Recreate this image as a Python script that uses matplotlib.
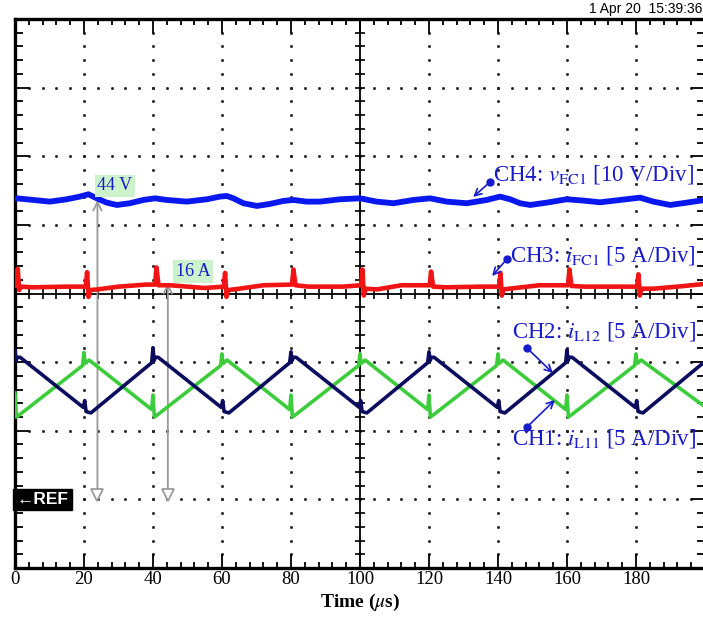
import numpy as np
import matplotlib
matplotlib.use("Agg")
import matplotlib.pyplot as plt

# === SCOPE DATA (time in us, amplitude in divisions from screen centre) ===
# CH4: v_FC1 (10 V/Div)
ch4_t = [0.5, 5.3, 10.1, 15.0, 18.8, 21.3, 23.7, 26.6, 29.5, 33.3, 37.2, 40.6,
         44.0, 49.8, 55.6, 59.4, 61.4, 63.3, 66.2, 70.1, 73.9, 77.8, 80.7, 84.5,
         88.4, 94.2, 100.0, 104.8, 109.7, 115.5, 120.3, 125.1, 130.9, 136.7,
         140.6, 143.5, 146.4, 149.3, 154.1, 159.9, 164.7, 169.6, 175.4, 181.2,
         185.0, 189.9, 194.7, 200.0]
ch4_v = [1.387, 1.363, 1.339, 1.373, 1.412, 1.446, 1.387, 1.324, 1.290, 1.315,
         1.363, 1.387, 1.363, 1.339, 1.373, 1.412, 1.421, 1.387, 1.315, 1.276,
         1.305, 1.349, 1.363, 1.339, 1.339, 1.373, 1.387, 1.339, 1.315, 1.363,
         1.387, 1.339, 1.315, 1.363, 1.412, 1.373, 1.315, 1.290, 1.324, 1.373,
         1.354, 1.329, 1.363, 1.397, 1.339, 1.290, 1.324, 1.363]

# CH3: i_FC1 (5 A/Div)
ch3_t = [0, 0.8, 1.2, 1.8, 5, 15, 20.5, 20.9, 21.3, 21.8, 24, 30, 38, 40.6, 41,
         41.6, 45, 55, 60.5, 60.9, 61.3, 61.8, 65, 72, 80.3, 80.7, 81.3, 85, 95,
         100.3, 100.7, 101.1, 101.6, 105, 112, 120.2, 120.6, 121.2, 125, 135,
         140.3, 140.7, 141.1, 141.6, 145, 152, 160.3, 160.7, 161.3, 165, 175,
         180.3, 180.7, 181.1, 181.6, 185, 192, 200]
ch3_v = [0.12, 0.36, 0.05, 0.10, 0.09, 0.10, 0.10, 0.31, -0.05, 0.05, 0.06, 0.10,
         0.13, 0.13, 0.38, 0.12, 0.12, 0.08, 0.10, 0.30, -0.05, 0.05, 0.07, 0.12,
         0.13, 0.35, 0.12, 0.10, 0.10, 0.12, 0.35, -0.03, 0.07, 0.06, 0.12, 0.12,
         0.32, 0.10, 0.09, 0.10, 0.10, 0.30, -0.03, 0.06, 0.08, 0.12, 0.12, 0.35,
         0.11, 0.10, 0.10, 0.10, 0.28, -0.03, 0.07, 0.07, 0.10, 0.14]

# CH2: i_L12 (5 A/Div)
ch2_t = [0, 0.3, 0.7, 1.5, 19.8, 20.2, 20.6, 22, 39.6, 40, 40.3, 40.7, 41.5,
         59.8, 60.2, 60.6, 62, 79.6, 80, 80.3, 80.7, 81.5, 99.8, 100.2, 100.6,
         102, 119.6, 120, 120.3, 120.7, 121.5, 139.8, 140.2, 140.6, 142, 159.6,
         160, 160.3, 160.7, 161.5, 179.8, 180.2, 180.6, 182, 200]
ch2_v = [-0.82, -0.98, -0.93, -0.93, -1.66, -1.56, -1.72, -1.74, -1.01, -0.79,
         -0.98, -0.93, -0.93, -1.66, -1.56, -1.72, -1.74, -1.01, -0.85, -0.98,
         -0.93, -0.93, -1.66, -1.56, -1.72, -1.74, -1.01, -0.85, -0.98, -0.93,
         -0.93, -1.66, -1.56, -1.72, -1.74, -1.01, -0.82, -0.98, -0.93, -0.93,
         -1.66, -1.56, -1.72, -1.74, -0.99]

# CH1: i_L11 (5 A/Div)
ch1_t = [0, 0.4, 1.5, 19.6, 20, 20.3, 21.5, 39.6, 40, 40.4, 41.5, 59.6, 60, 60.3,
         61.5, 79.6, 80, 80.4, 81.5, 99.6, 100, 100.3, 101.5, 119.6, 120, 120.4,
         121.5, 139.6, 140, 140.3, 141.5, 159.6, 160, 160.4, 161.5, 179.6, 180,
         180.3, 181.5, 200]
ch1_v = [-1.45, -1.80, -1.76, -1.05, -0.86, -1.02, -0.97, -1.69, -1.48, -1.80,
         -1.76, -1.05, -0.88, -1.02, -0.97, -1.69, -1.48, -1.80, -1.76, -1.05,
         -0.88, -1.02, -0.97, -1.69, -1.48, -1.80, -1.76, -1.05, -0.88, -1.02,
         -0.97, -1.69, -1.48, -1.80, -1.76, -1.05, -0.88, -1.02, -0.97, -1.65]

# cursor markers: (time, level on trace, label, label position)
cursor_t = [23.9, 44.3]
cursor_top = [1.36, 0.15]
cursor_labels = ["44 V", "16 A"]
cursor_label_xy = [(29.0, 1.567), (51.6, 0.32)]
ref_level = -2.94

x_labels = [str(v) for v in range(0, 200, 20)]

# channel annotations: text, text position, dot (tail) position, arrow tip
ann_text = [r"CH4: $v_{\rm FC1}$ [10 V/Div]",
            r"CH3: $i_{\rm FC1}$ [5 A/Div]",
            r"CH2: $i_{\rm L12}$ [5 A/Div]",
            r"CH1: $i_{\rm L11}$ [5 A/Div]"]
ann_xy = [(138.6, 1.73), (143.5, 0.56), (144.0, -0.56), (144.0, -2.11)]
ann_dot = [(137.7, 1.625), (142.6, 0.503), (148.4, -0.794), (148.4, -1.946)]
ann_tip = [(132.8, 1.407), (138.3, 0.255), (155.9, -1.159), (156.5, -1.552)]

# === STYLE ===
plt.rcParams["font.family"] = ["Liberation Serif", "DejaVu Serif"]
plt.rcParams["mathtext.fontset"] = "stix"

c_blue = "#0a18f0"
c_red = "#f01414"
c_green = "#3ccc3c"
c_navy = "#0c0c5e"
c_text = "#1a1acd"

fig = plt.figure(figsize=(7.03, 6.17), dpi=100)
ax = fig.add_axes([15 / 703, 49 / 617, 690 / 703, 549 / 617])
ax.set_xlim(0, 200)
ax.set_ylim(-4, 4)

# frame ticks
ax.set_xticks(np.arange(0, 200, 20))
ax.set_xticklabels(x_labels, fontsize=13.5)
ax.set_xticks(np.arange(0, 201, 4), minor=True)
ax.set_yticks(np.arange(-4, 5, 1))
ax.set_yticks(np.arange(-4, 4.01, 0.2), minor=True)
ax.tick_params(axis="both", which="both", direction="in", top=True, right=True,
               width=1.3, color="black")
ax.tick_params(axis="x", which="major", length=10, pad=2)
ax.tick_params(axis="x", which="minor", length=4.5)
ax.tick_params(axis="y", which="major", length=10, labelleft=False)
ax.tick_params(axis="y", which="minor", length=5.5)
for sp in ax.spines.values():
    sp.set_linewidth(2.4)

# dotted graticule
minor_x = np.arange(0, 201, 4)
minor_y = np.arange(-4, 4.01, 0.2)
for gx in range(20, 200, 20):
    if gx == 100:
        continue
    ax.plot(np.full(minor_y.size, gx), minor_y, ls="none", marker="s", ms=1.0,
            color="#222222", zorder=1)
for gy in [-3, -2, -1, 1, 2, 3]:
    ax.plot(minor_x, np.full(minor_x.size, gy), ls="none", marker="s", ms=1.0,
            color="#222222", zorder=1)

# centre axes with cross ticks
ax.axhline(0, color="black", lw=1.3, zorder=1)
ax.axvline(100, color="black", lw=1.3, zorder=1)
ax.plot(minor_x, np.zeros(minor_x.size), ls="none", marker="|", ms=7, mew=1.2,
        color="black", zorder=1)
ax.plot(np.full(minor_y.size, 100), minor_y, ls="none", marker="_", ms=7, mew=1.2,
        color="black", zorder=1)

# cursors
for t, top in zip(cursor_t, cursor_top):
    ax.annotate("", xy=(t, top), xytext=(t, ref_level + 0.05),
                arrowprops=dict(arrowstyle="->,head_length=0.6,head_width=0.3",
                                color="#9a9a9a", lw=1.3, shrinkA=0, shrinkB=0),
                zorder=2)
    ax.plot([t], [ref_level], marker="v", ms=8, mfc="white", mec="#9a9a9a",
            mew=1.3, zorder=2)

# === TRACES ===
ax.plot(ch1_t, ch1_v, color=c_green, lw=2.6, zorder=3, solid_joinstyle="round")
ax.plot(ch2_t, ch2_v, color=c_navy, lw=2.6, zorder=4, solid_joinstyle="round")
ax.plot(ch3_t, ch3_v, color=c_red, lw=3.3, zorder=4, solid_joinstyle="round")
ax.plot(ch4_t, ch4_v, color=c_blue, lw=4.2, zorder=4, solid_joinstyle="round")

# cursor value boxes
for txt, (lx, ly) in zip(cursor_labels, cursor_label_xy):
    ax.text(lx, ly, txt, color=c_text, fontsize=13, ha="center", va="center",
            bbox=dict(boxstyle="square,pad=0.15", fc="#ccf2cc", ec="none"), zorder=5)

# channel labels
for txt, xy, dot, tip in zip(ann_text, ann_xy, ann_dot, ann_tip):
    ax.text(xy[0], xy[1], txt, color=c_text, fontsize=16.5, ha="left", va="center",
            zorder=6)
    ax.annotate("", xy=tip, xytext=dot,
                arrowprops=dict(arrowstyle="->,head_length=0.5,head_width=0.25",
                                color=c_text, lw=1.2, shrinkA=0, shrinkB=0), zorder=6)
    ax.plot([dot[0]], [dot[1]], marker="o", ms=5, color=c_text, zorder=6)

# reference marker
ax.text(0.4, -3.0, "\u2190REF", color="white", fontsize=12.5, fontweight="bold",
        family=["Liberation Sans", "DejaVu Sans"], ha="left", va="center",
        bbox=dict(boxstyle="square,pad=0.18", fc="black", ec="black"), zorder=6)

ax.set_xlabel(r"Time ($\mu$s)", fontsize=14, fontweight="bold", labelpad=3)

fig.text(702 / 703, 1 - 9.5 / 617, "1 Apr 20  15:39:36", ha="right", va="center",
         fontsize=10, family=["Liberation Sans Narrow", "Liberation Sans", "DejaVu Sans"])

fig.savefig("out.png", dpi=100)
